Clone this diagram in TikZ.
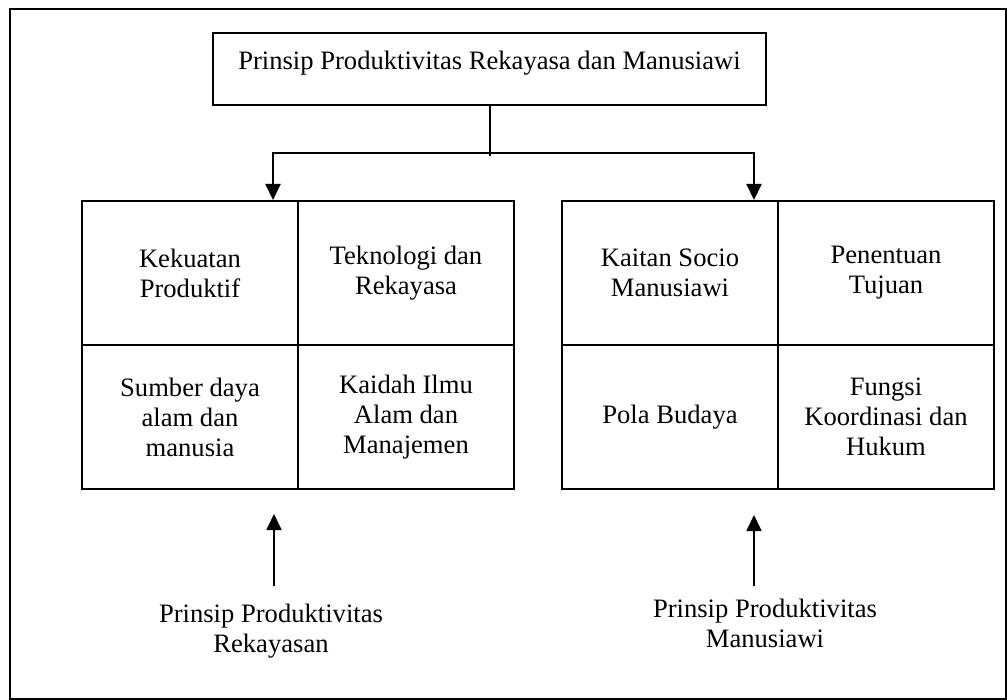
\documentclass[tikz,border=0pt]{standalone}
\usepackage{fontspec}
\setmainfont{Liberation Serif}
\usetikzlibrary{arrows.meta}
\begin{document}
\begin{tikzpicture}[x=0.5pt,y=-0.5pt,
  txt/.style={font=\fontsize{13.3}{15}\selectfont, align=center, inner sep=0pt},
  cell/.style={draw, line width=1pt, minimum width=108pt, minimum height=72pt, inner sep=0pt, align=center, font=\fontsize{13.3}{15}\selectfont},
  frame/.style={draw, line width=1pt},
  topbox/.style={draw, line width=0.75pt, minimum width=276.5pt, minimum height=36pt, inner sep=0pt},
  stem/.style={line width=0.65pt},
  arr/.style={line width=1pt, -{Triangle[length=8pt,width=7.5pt]}},
  uparr/.style={line width=0.85pt, -{Triangle[length=8pt,width=7.5pt]}}]
\useasboundingbox (0,0) rectangle (1007,700);
\draw[frame] (10,9) rectangle (1005.5,698.5);

% top box
\node[topbox] (top) at (489.5,69) {};
\node[txt, anchor=base] (toptext) at (489.5,70) {Prinsip Produktivitas Rekayasa dan Manusiawi};

% left grid
\node[cell] (L11) at (190,273) {Kekuatan\\Produktif};
\node[cell] (L12) at (406,273) {Teknologi dan\\Rekayasa};
\node[cell] (L21) at (190,417) {Sumber daya\\alam dan\\manusia};
\node[cell] (L22) at (406,417) {Kaidah Ilmu\\Alam dan\\Manajemen};

% right grid
\node[cell] (R11) at (670,273) {Kaitan Socio\\Manusiawi};
\node[cell] (R12) at (886,273) {Penentuan\\Tujuan};
\node[cell] (R21) at (670,417) {Pola Budaya};
\node[cell] (R22) at (886,417) {Fungsi\\Koordinasi dan\\Hukum};

% connectors from top box
\coordinate (jc) at (490,153);
\coordinate (jend) at (490,156);
\coordinate (jl) at (273,153);
\coordinate (jr) at (754,153);
\draw[stem] (top.south -| jc) -- (jend);
\draw[arr] (jc) -| (jl |- L11.north);
\draw[arr] (jc) -| (jr |- R11.north);

% bottom labels
\node[txt] (lblL) at (271,631) {Prinsip Produktivitas\\Rekayasan};
\node[txt] (lblR) at (765,623) {Prinsip Produktivitas\\Manusiawi};
\coordinate (aL) at (274,586);
\coordinate (tL) at (274,514);
\coordinate (aR) at (754,586);
\coordinate (tR) at (754,515);
\draw[uparr] (aL) -- (tL);
\draw[uparr] (aR) -- (tR);
\end{tikzpicture}
\end{document}
